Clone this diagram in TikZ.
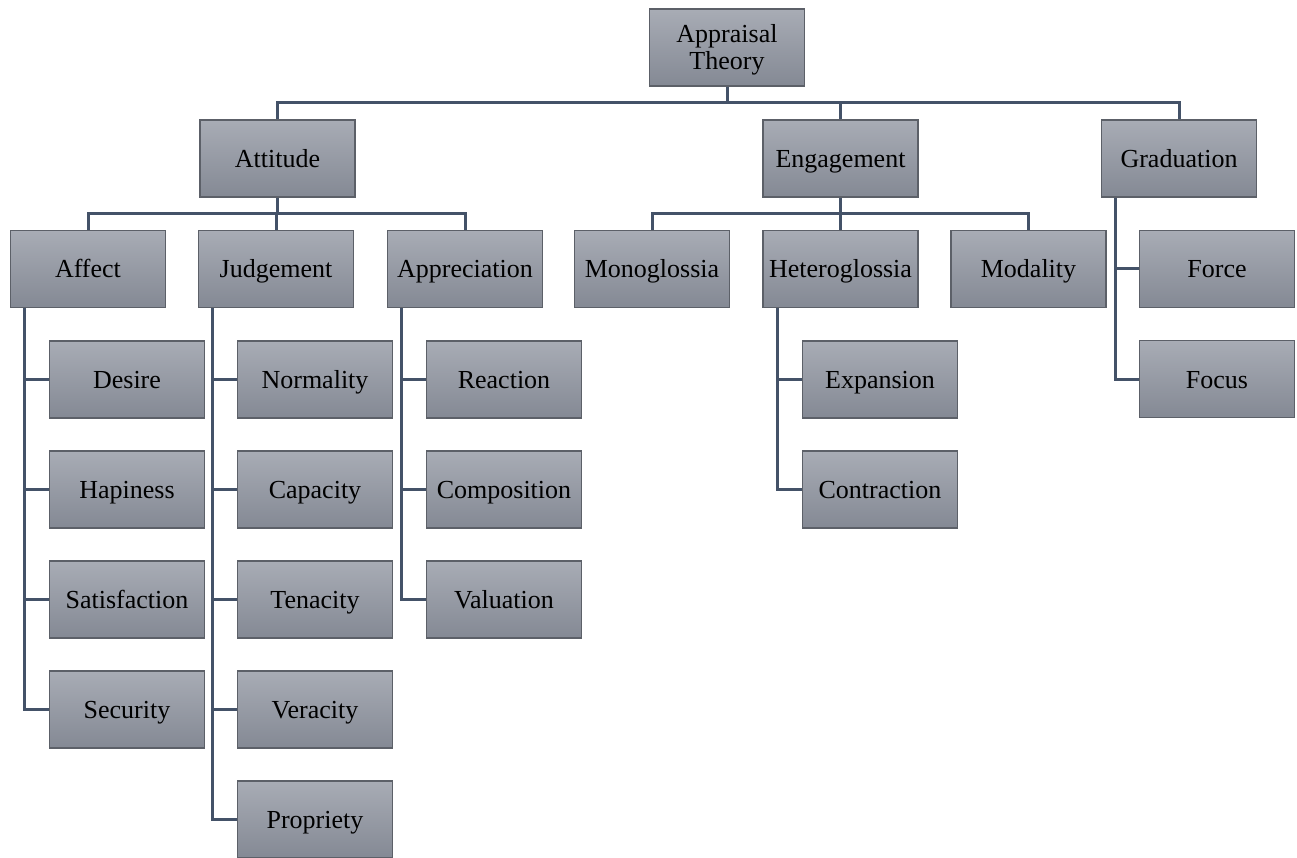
\documentclass[tikz,border=0pt]{standalone}
\usepackage{fontspec}
\setmainfont{Liberation Serif}
\definecolor{boxtop}{RGB}{168,172,181}
\definecolor{boxbot}{RGB}{132,137,148}
\definecolor{boxline}{RGB}{92,96,104}
\definecolor{conn}{RGB}{68,82,104}
\begin{document}
\begin{tikzpicture}[x=1pt,y=-1pt,
  boxbase/.style={rectangle, draw=boxline, line width=1.2pt, top color=boxtop, bottom color=boxbot,
    minimum width=155pt, minimum height=77pt, inner sep=0pt, align=center,
    font=\fontsize{26}{27}\selectfont},
  box/.style={boxbase, text height=20pt, text depth=2pt},
  link/.style={draw=conn, line width=3pt}]
\useasboundingbox (0,0) rectangle (1297,858);
% level 0
\node[boxbase, text height=47pt, text depth=2pt] (root) at (727,47.5) {Appraisal\\Theory};
% level 1
\node[box] (att) at (277.5,158.5) {Attitude};
\node[box] (eng) at (840.5,158.5) {Engagement};
\node[box] (grad) at (1179,158.5) {Graduation};
% level 2
\node[box] (aff) at (88,269) {Affect};
\node[box] (jud) at (276,269) {Judgement};
\node[box] (app) at (465,269) {Appreciation};
\node[box] (mono) at (652,269) {Monoglossia};
\node[box] (het) at (840.5,269) {Heteroglossia};
\node[box] (moda) at (1028.5,269) {Modality};
\node[box] (force) at (1217,269) {Force};
\node[box] (focus) at (1217,379) {Focus};
% affect children
\node[box] (des) at (127,379.5) {Desire};
\node[box] (hap) at (127,489.5) {Hapiness};
\node[box] (sat) at (127,599.5) {Satisfaction};
\node[box] (sec) at (127,709.5) {Security};
% judgement children
\node[box] (norm) at (315,379.5) {Normality};
\node[box] (cap) at (315,489.5) {Capacity};
\node[box] (ten) at (315,599.5) {Tenacity};
\node[box] (ver) at (315,709.5) {Veracity};
\node[box] (prop) at (315,819.5) {Propriety};
% appreciation children
\node[box] (reac) at (504,379.5) {Reaction};
\node[box] (comp) at (504,489.5) {Composition};
\node[box] (val) at (504,599.5) {Valuation};
% heteroglossia children
\node[box] (exp) at (880,379.5) {Expansion};
\node[box] (cont) at (880,489.5) {Contraction};
% connectors level 0 -> 1
\coordinate (rb) at ([yshift=-16pt]root.south);
\draw[link] (root.south) -- (rb) -| (att.north);
\draw[link] (rb) -| (eng.north);
\draw[link] (rb) -| (grad.north);
% attitude -> children
\coordinate (ab) at ([yshift=-16pt]att.south);
\draw[link] (att.south) -- (ab) -| (aff.north);
\draw[link] (ab) -| (jud.north);
\draw[link] (ab) -| (app.north);
% engagement -> children
\coordinate (eb) at ([yshift=-16pt]eng.south);
\draw[link] (eng.south) -- (eb) -| (mono.north);
\draw[link] (eb) -| (het.north);
\draw[link] (eb) -| (moda.north);
% trunks
\coordinate (ta) at ([xshift=15pt]aff.south west);
\draw[link] (ta) |- (sec.west);
\foreach \c in {des,hap,sat} \draw[link] (ta |- \c.west) -- (\c.west);
\coordinate (tj) at ([xshift=15pt]jud.south west);
\draw[link] (tj) |- (prop.west);
\foreach \c in {norm,cap,ten,ver} \draw[link] (tj |- \c.west) -- (\c.west);
\coordinate (tp) at ([xshift=15pt]app.south west);
\draw[link] (tp) |- (val.west);
\foreach \c in {reac,comp} \draw[link] (tp |- \c.west) -- (\c.west);
\coordinate (th) at ([xshift=15pt]het.south west);
\draw[link] (th) |- (cont.west);
\draw[link] (th |- exp.west) -- (exp.west);
\coordinate (tg) at ([xshift=15pt]grad.south west);
\draw[link] (tg) |- (focus.west);
\draw[link] (tg |- force.west) -- (force.west);
\end{tikzpicture}
\end{document}
